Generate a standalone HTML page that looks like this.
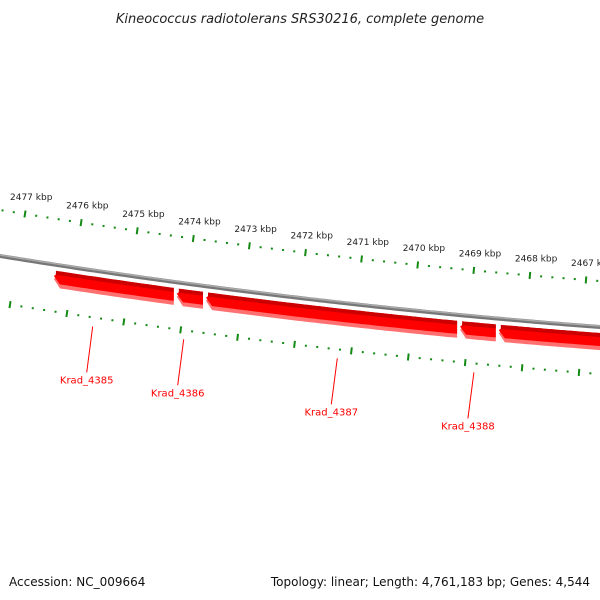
<!DOCTYPE html>
<html><head><meta charset="utf-8"><style>
body{margin:0;background:#fff;}
svg{display:block;font-family:"DejaVu Sans","Liberation Sans",sans-serif;}
</style></head><body>
<svg id="c" width="600" height="600" viewBox="0 0 600 600">
<text x="300" y="23" text-anchor="middle" font-size="13" font-style="italic" fill="#222">Kineococcus radiotolerans SRS30216, complete genome</text>
<g id="layer"></g>
<text x="9" y="586" font-size="12" fill="#111">Accession: NC_009664</text>
<text x="590" y="586" text-anchor="end" font-size="12" fill="#111">Topology: linear; Length: 4,761,183 bp; Genes: 4,544</text>
</svg>
<script>
const majorKbp=[2477,2476,2475,2474,2473,2472,2471,2470,2469,2468,2467];
const geneNames=["Krad_4385","Krad_4386","Krad_4387","Krad_4388",""];
const geneStart=[2476.52,2474.33,2473.81,2469.28,2468.59];
const geneEnd=[2474.33,2473.81,2469.28,2468.59,2466.6];
const labelKbp=[2475.6,2474.0,2471.3,2468.9];
const labelDrop=[46,46,46,46];

const NS="http://www.w3.org/2000/svg";
const L=document.getElementById('layer');
function xU(k){return 25+(2477-k)*56.1;}
function xD(k){return 10+(2477-k)*56.9;}
function bb(x){return 256+0.1616*x-0.000072*x*x;}
function slope(x){return 0.1616-0.000144*x;}
function mk(t,a){const e=document.createElementNS(NS,t);for(const k in a)e.setAttribute(k,a[k]);L.appendChild(e);return e;}

// backbone
let d="";for(let x=-5;x<=605;x+=5){d+=(x<0?"M":"L")+x+","+bb(x).toFixed(2);}
let p=mk('path',{d:d,fill:'none',stroke:'#777',"stroke-width":4});


p=mk('path',{d:d,fill:'none',stroke:'#aaa',"stroke-width":1.5,transform:'translate(0,-1)'});



// ticks
function tick(x,off,len,name){
  const y=bb(x)+off,s=slope(x),n=Math.hypot(1,s);const nx=-s/n,ny=1/n;
  const t=mk('line',{x1:(x-nx*len/2).toFixed(2),y1:(y-ny*len/2).toFixed(2),x2:(x+nx*len/2).toFixed(2),y2:(y+ny*len/2).toFixed(2),stroke:'#138a13',"stroke-width":2});
  
  
}
majorKbp.forEach((k,i)=>{
  for(let j=0;j<5;j++){
    const kk=k-j*0.2;
    const xu=xU(kk);
    if(xu>-3&&xu<603)tick(xu,-46,j==0?7:2,j==0?'upper-major-tick':'upper-minor-tick');
    const xd=xD(kk);
    if(xd>-3&&xd<603)tick(xd,47,j==0?7:2,j==0?'lower-major-tick':'lower-minor-tick');
  }
  for(let j=1;j<5;j++){const xu=xU(k+j*0.2);if(i==0&&xu>-3)tick(xu,-46,2,'upper-minor-tick');const xd=xD(k+j*0.2);if(i==0&&xd>-3)tick(xd,47,2,'lower-minor-tick');}
  const x=xU(k);
  if(x<590){
    const t=mk('text',{x:(x-15).toFixed(1),y:(bb(x)-60).toFixed(1),"font-size":9,fill:'#222'});
    t.textContent=k+" kbp";
    
    
  }
});

// genes (left-pointing arrows)
function bandPath(x1,x2,o1,o2,arrow){
  let pts=[];
  const tip=6;
  for(let x=x1+(arrow?tip:0);x<=x2;x+=4)pts.push([x,bb(x)+o1]);
  pts.push([x2,bb(x2)+o1]);pts.push([x2,bb(x2)+o2]);
  for(let x=x2;x>=x1+(arrow?tip:0);x-=4)pts.push([x,bb(x)+o2]);
  pts.push([x1+(arrow?tip:0),bb(x1+tip)+o2]);
  if(arrow)pts.push([x1,bb(x1)+(o1+o2)/2-1]);
  return "M"+pts.map(q=>q[0].toFixed(1)+","+q[1].toFixed(1)).join("L")+"Z";
}
geneStart.forEach((s,i)=>{
  const x1=xU(s)+2,x2=xU(geneEnd[i])-1;
  let g=mk('path',{d:bandPath(x1,x2,8,23,true),fill:'#ff7070'});
  
  
  g=mk('path',{d:bandPath(x1,x2,6,19,true),fill:'#ff0000'});
  
  
  g=mk('path',{d:bandPath(x1+2,x2,6,10,false),fill:'#cc0000'});
  
  
});
labelKbp.forEach((k,i)=>{
  const x=xD(k)+3,y=bb(x)+labelDrop[i]+10;
  let l=mk('line',{x1:x.toFixed(1),y1:y.toFixed(1),x2:(x-6).toFixed(1),y2:(y+46).toFixed(1),stroke:'#ff0000',"stroke-width":1});
  
  
  const t=mk('text',{x:(x-6).toFixed(1),y:(y+57).toFixed(1),"text-anchor":"middle","font-size":10,fill:'#ff0000'});
  t.textContent=geneNames[i];
  
  
});
</script>
</body></html>
